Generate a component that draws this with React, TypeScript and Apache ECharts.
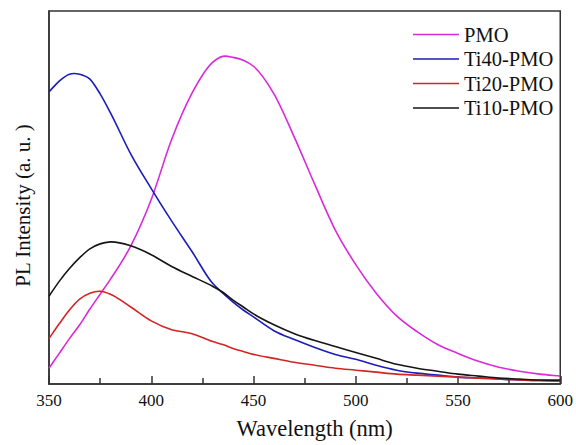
import React, { useEffect, useRef } from "react";
import * as echarts from "echarts";

const wavelengths = [350, 355, 360, 365, 370, 375, 380, 390, 400, 410, 420, 430, 435, 440, 445, 450, 460, 470, 480, 490, 500, 510, 520, 530, 540, 550, 560, 570, 580, 590, 600];
const pmo = [16, 31, 46, 60, 76, 91, 106, 140, 187, 248, 295, 326, 332, 331, 328, 322, 294, 250, 202, 156, 121, 92, 69, 53, 40, 31, 23, 17, 13, 10, 8];
const ti40 = [296, 307, 314, 314, 309, 294, 275, 233, 198, 165, 134, 102, 92, 83, 75, 68, 54, 45, 37, 30, 25, 19, 14, 11, 9, 7, 6, 5, 4, 3.5, 3];
const ti20 = [46, 61, 75, 86, 92, 94, 91, 78, 64, 55, 51, 43, 40, 36, 33, 30, 26, 22, 19, 16, 14, 12, 10, 9, 8, 7, 6, 5, 4, 3.5, 3];
const ti10 = [89, 104, 117, 128, 137, 142, 144, 140, 131, 119, 109, 99, 93, 85, 78, 71, 60, 51, 44, 38, 32, 26, 20, 16, 13, 10, 8, 6, 5, 4, 4];
const xTicks = [350, 400, 450, 500, 550, 600];
const seriesNames = ["PMO", "Ti40-PMO", "Ti20-PMO", "Ti10-PMO"];
const seriesColors = ["#d92ad9", "#1c1cb8", "#d42424", "#151515"];

const FONT = "'Liberation Serif', 'Times New Roman', serif";

function smoothPath(pts: number[][]): string {
  const n = pts.length;
  const m = pts.map((p, k) => {
    if (k === 0) return (pts[1][1] - pts[0][1]) / (pts[1][0] - pts[0][0]);
    if (k === n - 1) return (pts[n - 1][1] - pts[n - 2][1]) / (pts[n - 1][0] - pts[n - 2][0]);
    const h0 = p[0] - pts[k - 1][0];
    const h1 = pts[k + 1][0] - p[0];
    const d0 = (p[1] - pts[k - 1][1]) / h0;
    const d1 = (pts[k + 1][1] - p[1]) / h1;
    return (d0 * h1 + d1 * h0) / (h0 + h1);
  });
  let d = `M${pts[0][0]},${pts[0][1]}`;
  for (let k = 0; k < n - 1; k++) {
    const [x0, y0] = pts[k];
    const [x1, y1] = pts[k + 1];
    const h = x1 - x0;
    d += ` C${x0 + h / 3},${y0 + (m[k] * h) / 3} ${x1 - h / 3},${y1 - (m[k + 1] * h) / 3} ${x1},${y1}`;
  }
  return d;
}

export default function App() {
  const ref = useRef<HTMLDivElement>(null);
  useEffect(() => {
    if (!ref.current) return;
    const chart = echarts.init(ref.current, undefined, { renderer: "svg" });
    const all = [pmo, ti40, ti20, ti10];
    const series = all.map((vals, i) => ({
      name: seriesNames[i],
      type: "custom",
      coordinateSystem: "cartesian2d",
      data: wavelengths.map((w, j) => [w, vals[j]]),
      encode: { x: 0, y: 1 },
      itemStyle: { color: seriesColors[i] },
      renderItem: (params: any, api: any) => {
        if (params.dataIndex !== 0) return null;
        const pts = wavelengths.map((w, j) => api.coord([w, vals[j]]));
        return {
          type: "path",
          shape: { pathData: smoothPath(pts) },
          style: { stroke: seriesColors[i], fill: "none", lineWidth: 1.6 },
        };
      },
    }));
    chart.setOption({
      animation: false,
      grid: { left: 49, right: 12, top: 11, bottom: 56, show: true, borderColor: "#333", borderWidth: 1.5 },
      legend: {
        orient: "vertical",
        left: 408,
        top: 19,
        icon: "rect",
        itemWidth: 46,
        itemHeight: 1.6,
        itemGap: 3.5,
        textStyle: { fontFamily: FONT, fontSize: 20.5, color: "#111", lineHeight: 20 },
        data: seriesNames,
      },
      xAxis: {
        type: "value",
        min: 350,
        max: 600,
        interval: 50,
        name: "Wavelength (nm)",
        nameLocation: "middle",
        nameGap: 33,
        nameTextStyle: { fontFamily: FONT, fontSize: 22.5, color: "#111", padding: [0, 0, 0, 20] },
        axisLine: { show: true, lineStyle: { color: "#333", width: 1.5 } },
        axisTick: { show: true, inside: true, length: 8, lineStyle: { color: "#333", width: 1.5 } },
        minorTick: { show: true, splitNumber: 2, length: 6, lineStyle: { color: "#333", width: 1.5 } },
        axisLabel: {
          fontFamily: FONT,
          fontSize: 17,
          color: "#111",
          margin: 8,
          formatter: (v: number) => (xTicks.includes(v) ? String(v) : ""),
        },
        splitLine: { show: false },
      },
      yAxis: {
        type: "value",
        min: 0,
        max: 378,
        name: "PL Intensity (a. u. )",
        nameLocation: "middle",
        nameGap: 16,
        nameTextStyle: { fontFamily: FONT, fontSize: 21, color: "#111", padding: [0, 16, 0, 0] },
        axisLine: { show: true, lineStyle: { color: "#333", width: 1.5 } },
        axisTick: { show: false },
        axisLabel: { show: false },
        splitLine: { show: false },
      },
      series,
    });
    return () => chart.dispose();
  }, []);
  return <div ref={ref} style={{ width: 576, height: 445, position: "absolute", left: 0, top: 0, background: "#fff" }} />;
}
